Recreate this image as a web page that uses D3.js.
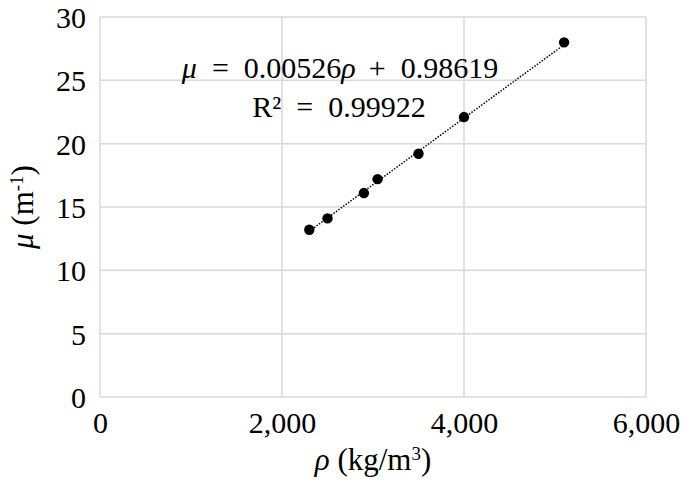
<!DOCTYPE html>
<html>

<head>
    <meta charset="UTF-8">
    <title>Attenuation coefficient vs density</title>
    <script src="https://d3js.org/d3.v7.min.js"></script>
</head>

<body style="margin:0">
    <script>
        // density (kg/m3) and attenuation coefficient (1/m)
        const rho = [2300, 2500, 2900, 3050, 3500, 4000, 5100];
        const mu = [13.2, 14.1, 16.1, 17.2, 19.2, 22.1, 28.0];
        // linear trend line as printed on the chart
        const slope = 0.00526, intercept = 0.98619, r2 = 0.99922;
        const xTicks = [0, 2000, 4000, 6000];
        const yTicks = [0, 5, 10, 15, 20, 25, 30];

        const width = 685, height = 486;
        const margin = { top: 17, right: 39, bottom: 89, left: 100 };
        const serif = '"Liberation Serif"';

        const svg = d3.select("body").append("svg")
            .attr("width", width).attr("height", height);

        const x = d3.scaleLinear().domain([0, 6000])
            .range([margin.left, width - margin.right]);
        const y = d3.scaleLinear().domain([0, 30])
            .range([height - margin.bottom, margin.top]);

        // gridlines (the frame is part of the grid)
        svg.append("g").selectAll("line")
            .data(yTicks).join("line")
            .attr("x1", x(0)).attr("x2", x(6000))
            .attr("y1", d => y(d)).attr("y2", d => y(d))
            .attr("stroke", "#d9d9d9").attr("stroke-width", 1.5);
        svg.append("g").selectAll("line")
            .data(xTicks).join("line")
            .attr("x1", d => x(d)).attr("x2", d => x(d))
            .attr("y1", y(0)).attr("y2", y(30))
            .attr("stroke", "#d9d9d9").attr("stroke-width", 1.5);

        // axes: labels only
        const xAxis = svg.append("g")
            .attr("transform", `translate(0,${y(0)})`)
            .call(d3.axisBottom(x).tickValues(xTicks).tickFormat(d3.format(",")).tickSize(0).tickPadding(15));
        const yAxis = svg.append("g")
            .attr("transform", `translate(${x(0)},0)`)
            .call(d3.axisLeft(y).tickValues(yTicks).tickSize(0).tickPadding(14));
        [xAxis, yAxis].forEach(g => {
            g.attr("font-family", null).attr("font-size", null);
            g.select(".domain").remove();
            g.selectAll("text")
                .style("font-size", "30px")
                .style("font-family", serif)
                .attr("fill", "#000");
        });
        yAxis.selectAll("text").attr("dy", "0.35em");

        // trend line
        const ext = d3.extent(rho);
        const line = d3.line().x(d => x(d)).y(d => y(slope * d + intercept));
        svg.append("path")
            .attr("d", line(ext))
            .attr("fill", "none")
            .attr("stroke", "#000")
            .attr("stroke-width", 1.5)
            .attr("stroke-dasharray", "1.5,1.5");

        // points
        svg.append("g").selectAll("circle")
            .data(rho).join("circle")
            .attr("cx", d => x(d))
            .attr("cy", (d, i) => y(mu[i]))
            .attr("r", 5.2)
            .attr("fill", "#000");

        // equation, math-style spacing round = and +
        const eq = svg.append("text")
            .attr("x", 340).attr("y", 78)
            .attr("text-anchor", "middle")
            .style("font-family", serif)
            .style("font-size", "30px");
        eq.append("tspan").style("font-style", "italic").text("μ");
        eq.append("tspan").attr("dx", 15).text("=");
        eq.append("tspan").attr("dx", 15).text(slope);
        eq.append("tspan").style("font-style", "italic").text("ρ");
        eq.append("tspan").attr("dx", 13).text("+");
        eq.append("tspan").attr("dx", 15).text(intercept);

        const r = svg.append("text")
            .attr("x", 339).attr("y", 117)
            .attr("text-anchor", "middle")
            .style("font-family", serif)
            .style("font-size", "30px");
        r.append("tspan").text("R²");
        r.append("tspan").attr("dx", 15).text("=");
        r.append("tspan").attr("dx", 15).text(r2);

        // axis titles
        const xt = svg.append("text")
            .attr("x", (x(0) + x(6000)) / 2).attr("y", 470)
            .attr("text-anchor", "middle")
            .style("font-family", serif)
            .style("font-size", "31px");
        xt.append("tspan").style("font-style", "italic").text("ρ");
        xt.append("tspan").text(" (kg/m");
        xt.append("tspan").attr("baseline-shift", "super").style("font-size", "19px").text("3");
        xt.append("tspan").text(")");

        const yt = svg.append("text")
            .attr("transform", `translate(33,${(y(0) + y(30)) / 2}) rotate(-90)`)
            .attr("text-anchor", "middle")
            .style("font-family", serif)
            .style("font-size", "31px");
        yt.append("tspan").style("font-style", "italic").text("μ");
        yt.append("tspan").text(" (m");
        yt.append("tspan").attr("baseline-shift", "super").style("font-size", "19px").text("-1");
        yt.append("tspan").text(")");
    </script>
</body>

</html>
